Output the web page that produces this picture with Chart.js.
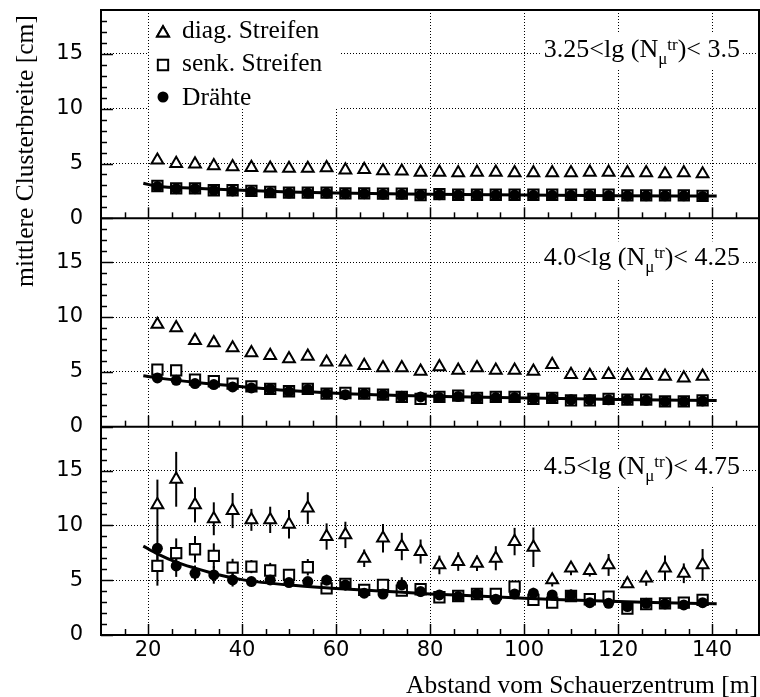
<!DOCTYPE html>
<html><head><meta charset="utf-8">
<script src="https://cdn.jsdelivr.net/npm/chart.js@4.4.1/dist/chart.umd.min.js"></script>
<style>html,body{margin:0;padding:0;background:#fff}canvas{display:block}</style>
</head><body>
<canvas id="c" width="760" height="697" style="width:760px;height:697px"></canvas>
<script>
// ---- data ----
const dist = [22,26,30,34,38,42,46,50,54,58,62,66,70,74,78,82,86,90,94,98,102,106,110,114,118,122,126,130,134,138];
const xTickValues = [20,40,60,80,100,120,140];
const yTickValues = [0,5,10,15];
const seriesNames = ['diag. Streifen','senk. Streifen','Drähte'];
const panelLabelPre = ['3.25<lg (N','4.0<lg (N','4.5<lg (N'];
const panelLabelPost = [')< 3.5',')< 4.25',')< 4.75'];

// panel 1: 3.25<lg(N)<3.5
const tri1 = [5.3,5.0,4.95,4.78,4.7,4.63,4.57,4.55,4.55,4.6,4.4,4.45,4.32,4.3,4.2,4.2,4.15,4.2,4.2,4.15,4.15,4.15,4.15,4.2,4.2,4.15,4.15,4.05,4.15,4.05];
const sq1  = [2.95,2.74,2.74,2.56,2.56,2.5,2.4,2.35,2.35,2.35,2.28,2.28,2.26,2.26,2.13,2.2,2.15,2.15,2.15,2.15,2.15,2.15,2.15,2.15,2.15,2.1,2.1,2.1,2.1,2.05];
const dot1 = [2.9,2.7,2.7,2.55,2.5,2.45,2.35,2.3,2.3,2.3,2.25,2.25,2.2,2.2,2.12,2.15,2.12,2.12,2.12,2.12,2.1,2.1,2.1,2.1,2.08,2.05,2.05,2.05,2.05,2.0];
const fitX1 = [19,22,30,40,50,60,80,100,120,141];
const fitY1 = [3.2,2.92,2.75,2.55,2.4,2.3,2.2,2.12,2.07,2.03];

// panel 2: 4.0<lg(N)<4.25
const tri2 = [9.32,9.01,7.85,7.64,7.18,6.73,6.48,6.18,6.42,5.88,5.88,5.57,5.36,5.36,5.05,5.45,5.14,5.36,5.14,5.14,5.05,5.66,4.75,4.66,4.75,4.66,4.66,4.6,4.44,4.6];
const sq2  = [5.2,5.14,4.29,4.14,3.93,3.68,3.44,3.23,3.44,3.01,3.07,3.01,2.92,2.71,2.53,2.71,2.83,2.62,2.71,2.71,2.53,2.62,2.4,2.4,2.53,2.47,2.47,2.31,2.31,2.4];
const dot2 = [4.44,4.23,3.93,3.84,3.62,3.53,3.44,3.2,3.4,3.01,2.92,3.0,2.92,2.77,2.71,2.65,2.75,2.6,2.65,2.65,2.55,2.6,2.45,2.45,2.45,2.45,2.4,2.3,2.3,2.35];
const fitX2 = [19,22,30,40,50,60,80,100,120,141];
const fitY2 = [4.65,4.45,4.05,3.65,3.3,3.05,2.78,2.62,2.48,2.38];

// panel 3: 4.5<lg(N)<4.75
const tri3 = [11.87,14.2,11.87,10.6,11.35,10.5,10.5,10.1,11.57,8.98,9.13,7.0,8.83,8.07,7.61,6.39,6.7,6.54,7.0,8.52,8.0,5.02,6.09,5.88,6.39,4.66,5.18,6.09,5.63,6.39];
const triErr3 = [2.3,2.5,1.6,1.5,1.6,1.0,1.2,1.3,1.45,1.2,1.2,0.8,1.3,1.25,1.1,0.85,0.85,0.7,1.1,1.25,1.8,0.6,0.65,0.55,1.0,0.3,0.7,1.15,0.9,1.45];
const sq3  = [6.3,7.46,7.82,7.21,6.15,6.24,5.88,5.48,6.18,4.26,4.66,4.11,4.57,4.05,4.17,3.44,3.56,3.74,3.74,4.41,3.2,2.95,3.56,3.26,3.5,2.4,2.83,2.89,2.95,3.2];
const sqErr3 = [1.8,1.35,1.2,1.15,0.8,0.6,0.7,0.55,0.75,0.3,0.35,0.3,0.3,0.35,0.3,0.3,0.3,0.3,0.35,0.45,0.3,0.3,0.3,0.3,0.3,0.3,0.3,0.3,0.3,0.3];
const dot3 = [7.91,6.3,5.63,5.48,5.02,4.87,5.02,4.78,4.87,5.0,4.57,3.81,3.74,4.57,3.96,3.65,3.5,3.74,3.26,3.74,3.81,3.65,3.65,2.95,2.89,2.59,2.89,2.83,2.74,2.95];
const dotErr3 = [1.7,1.0,0.7,0.8,0.6,0.3,0.4,0.4,0.3,0.5,0.5,0.3,0.3,0.7,0.5,0.3,0.3,0.3,0.3,0.4,0.5,0.4,0.5,0.3,0.3,0.3,0.3,0.3,0.3,0.3];
const fitX3 = [19,22,26,30,35,40,50,60,70,80,90,100,110,120,130,141];
const fitY3 = [8.1,7.4,6.65,6.1,5.5,5.05,4.55,4.25,4.0,3.75,3.55,3.35,3.2,3.05,2.95,2.85];

// ---- build ----
const panels = [
  {axis:'yTop', tri:tri1, sq:sq1, dot:dot1, fitX:fitX1, fitY:fitY1},
  {axis:'yMid', tri:tri2, sq:sq2, dot:dot2, fitX:fitX2, fitY:fitY2},
  {axis:'yBot', tri:tri3, sq:sq3, dot:dot3, fitX:fitX3, fitY:fitY3, triErr:triErr3, sqErr:sqErr3, dotErr:dotErr3}
];
const pts = arr => dist.map((x, i) => ({x, y: arr[i]}));
const datasets = [];
panels.forEach((p, k) => {
  datasets.push({label:'fit'+k, yAxisID:p.axis, data:p.fitX.map((x,i)=>({x, y:p.fitY[i]})), showLine:true,
    borderColor:'#000', borderWidth:3, pointRadius:0, cubicInterpolationMode:'monotone', order:0});
  datasets.push({label:seriesNames[2], yAxisID:p.axis, data:pts(p.dot), errors:p.dotErr, pointStyle:'circle',
    pointRadius:5.5, pointBorderWidth:0, backgroundColor:'#000', borderColor:'#000', order:1});
  datasets.push({label:seriesNames[1], yAxisID:p.axis, data:pts(p.sq), errors:p.sqErr, pointStyle:'rect',
    pointRadius:7.3, pointBorderWidth:2, backgroundColor:'#fff', borderColor:'#000', order:2});
  datasets.push({label:seriesNames[0], yAxisID:p.axis, data:pts(p.tri), errors:p.triErr, pointStyle:'triangle',
    pointRadius:6.8, pointBorderWidth:2, backgroundColor:'#fff', borderColor:'#000', order:3});
});

const tickFont = {family:'"DejaVu Sans", sans-serif', size:21};
function yScale() {
  return {
    type:'linear', position:'left', stack:'panels', stackWeight:1, min:0, max:19,
    afterBuildTicks: s => { s.ticks = yTickValues.map(v => ({value:v})); },
    afterFit: s => { s.width = 101; s.paddingTop = 0; s.paddingBottom = 0; },
    grid: {color:'#000', lineWidth:1, drawTicks:false},
    border: {display:false, dash:[1,2]},
    ticks: {color:'#000', font:tickFont, padding:18}
  };
}

const serif = '"Liberation Serif", "Times New Roman", serif';
function drawPanelLabel(ctx, rightX, baseY, pre, post) {
  const big = '26px ' + serif, small = '17px ' + serif;
  ctx.font = big;
  const wPre = ctx.measureText(pre).width, wPost = ctx.measureText(post).width;
  ctx.font = small;
  const wMu = ctx.measureText('μ').width, wTr = ctx.measureText('tr').width;
  let x = rightX - (wPre + wMu + wTr + wPost);
  ctx.fillStyle = '#fff';
  ctx.fillRect(x - 4, baseY - 24, rightX - x + 7, 37);
  ctx.textAlign = 'left'; ctx.textBaseline = 'alphabetic'; ctx.fillStyle = '#000';
  ctx.font = big; ctx.fillText(pre, x, baseY); x += wPre;
  ctx.font = small; ctx.fillText('μ', x, baseY + 7); x += wMu;
  ctx.fillText('tr', x, baseY - 7); x += wTr;
  ctx.font = big; ctx.fillText(post, x, baseY);
}

const sciPlugin = {
  id:'sci',
  beforeDatasetsDraw(chart) {
    const ctx = chart.ctx, xs = chart.scales.x;
    ctx.save();
    ctx.strokeStyle = '#000'; ctx.lineWidth = 2;
    chart.data.datasets.forEach(ds => {
      if (!ds.errors) return;
      const ys = chart.scales[ds.yAxisID];
      ds.data.forEach((p, j) => {
        const e = ds.errors[j]; if (!e) return;
        const x = xs.getPixelForValue(p.x);
        ctx.beginPath();
        ctx.moveTo(x, ys.getPixelForValue(p.y - e));
        ctx.lineTo(x, ys.getPixelForValue(p.y + e));
        ctx.stroke();
      });
    });
    ctx.restore();
  },
  afterDraw(chart) {
    const ctx = chart.ctx, ca = chart.chartArea, xs = chart.scales.x;
    ctx.save();
    // legend box (white, hides grid behind it)
    const top = chart.scales.yTop.top, lx = 163;
    ctx.fillStyle = '#fff';
    ctx.fillRect(149, top + 3, 190, 96);
    ctx.strokeStyle = '#000'; ctx.fillStyle = '#000';
    // inward tick marks
    ctx.lineWidth = 1.5;
    ['yTop','yMid','yBot'].forEach(id => {
      const ys = chart.scales[id];
      for (let v = 0; v < ys.max; v += 1) {
        const y = Math.round(ys.getPixelForValue(v)) + 0.5;
        const len = (v % 5 === 0) ? 12 : 6;
        ctx.beginPath(); ctx.moveTo(ca.left, y); ctx.lineTo(ca.left + len, y); ctx.stroke();
      }
      for (let v = xs.min + 5; v < xs.max; v += 5) {
        const x = Math.round(xs.getPixelForValue(v)) + 0.5;
        const len = (v % 20 === 0) ? 11 : 6;
        ctx.beginPath(); ctx.moveTo(x, ys.bottom); ctx.lineTo(x, ys.bottom - len); ctx.stroke();
      }
    });
    // frame
    ctx.lineWidth = 2;
    ctx.strokeRect(ca.left, ca.top, ca.right - ca.left, ca.bottom - ca.top);
    ['yTop','yMid'].forEach(id => {
      const y = chart.scales[id].bottom;
      ctx.beginPath(); ctx.moveTo(ca.left, y); ctx.lineTo(ca.right, y); ctx.stroke();
    });
    // panel labels
    ['yTop','yMid','yBot'].forEach((id, k) => {
      drawPanelLabel(ctx, 740, chart.scales[id].top + 47, panelLabelPre[k], panelLabelPost[k]);
    });
    // legend entries
    const H = Chart.helpers;
    ctx.strokeStyle = '#000'; ctx.lineWidth = 2;
    H.drawPoint(ctx, {pointStyle:'triangle', radius:6.8, borderWidth:2, rotation:0}, lx, top + 23);
    ctx.fillStyle = '#fff'; ctx.fill(); ctx.stroke();
    H.drawPoint(ctx, {pointStyle:'rect', radius:7.3, borderWidth:2, rotation:0}, lx, top + 55);
    H.drawPoint(ctx, {pointStyle:'circle', radius:5.5, borderWidth:0, rotation:0}, lx, top + 87);
    ctx.fillStyle = '#000'; ctx.fill();
    ctx.font = '25.5px ' + serif; ctx.textAlign = 'left'; ctx.textBaseline = 'alphabetic';
    ctx.fillText(seriesNames[0], 182, top + 27.5);
    ctx.fillText(seriesNames[1], 182, top + 60.5);
    ctx.fillText(seriesNames[2], 182, top + 94.5);
    // axis titles
    ctx.font = '25.5px ' + serif;
    ctx.textAlign = 'right';
    ctx.fillText('Abstand vom Schauerzentrum [m]', 758, 693);
    ctx.save();
    ctx.translate(33, 151); ctx.rotate(-Math.PI / 2);
    ctx.textAlign = 'center';
    ctx.fillText('mittlere Clusterbreite [cm]', 0, 0);
    ctx.restore();
    ctx.restore();
  }
};

new Chart(document.getElementById('c'), {
  type:'scatter',
  data:{datasets},
  options:{
    responsive:false, animation:false, devicePixelRatio:1, events:[],
    layout:{autoPadding:false, padding:{top:10, right:1, left:0, bottom:0}},
    plugins:{legend:{display:false}, tooltip:{enabled:false}, title:{display:false}},
    scales:{
      x:{type:'linear', position:'bottom', min:10, max:150,
         afterBuildTicks: s => { s.ticks = xTickValues.map(v => ({value:v})); },
         afterFit: s => { s.height = 62; s.paddingLeft = 0; s.paddingRight = 0; },
         grid:{color:'#000', lineWidth:1, drawTicks:false},
         border:{display:false, dash:[1,2]},
         ticks:{color:'#000', font:tickFont, padding:3, maxRotation:0}},
      yBot: yScale(),
      yMid: yScale(),
      yTop: yScale()
    }
  },
  plugins:[sciPlugin]
});
</script>
</body></html>
